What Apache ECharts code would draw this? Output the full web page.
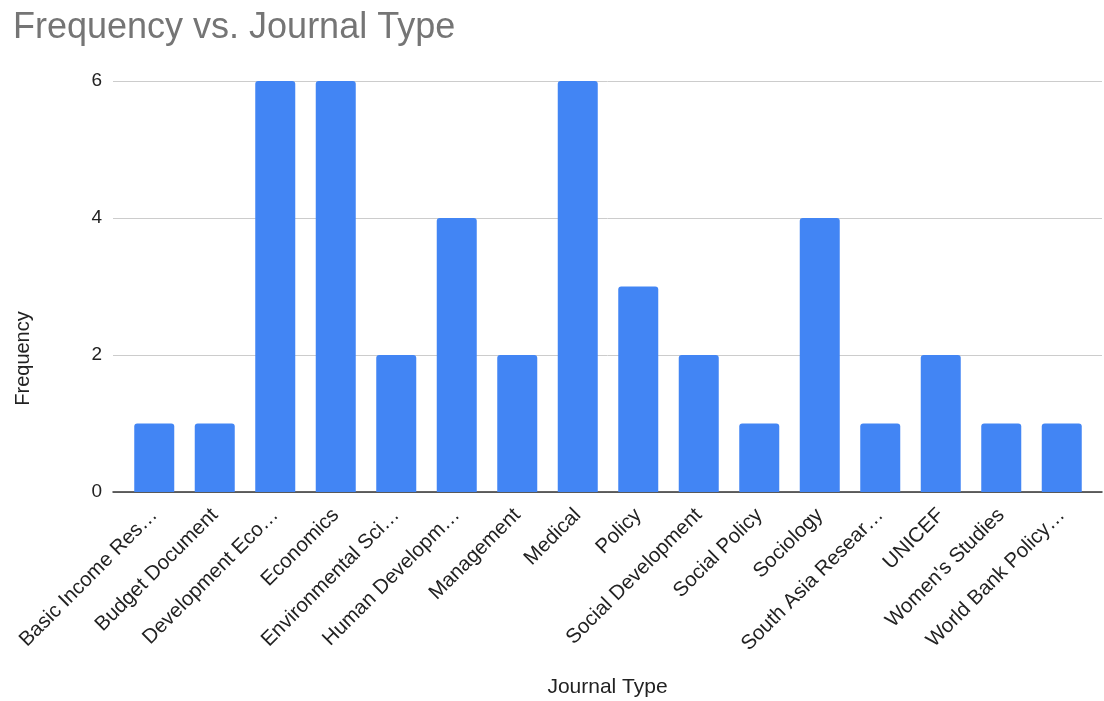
<!DOCTYPE html>
<html>
<head>
<meta charset="utf-8">
<script src="https://cdn.jsdelivr.net/npm/echarts@6/dist/echarts.min.js"></script>
<style>
  html, body { margin: 0; padding: 0; background: #fff; }
  #chart { width: 1104px; height: 701px; }
</style>
</head>
<body>
<div id="chart"></div>
<script>
// Journal types (labels shortened as displayed) and how often each occurs
const journalTypes = [
  'Basic Income Res\u2026', 'Budget Document', 'Development Eco\u2026', 'Economics',
  'Environmental Sci\u2026', 'Human Developm\u2026', 'Management', 'Medical',
  'Policy', 'Social Development', 'Social Policy', 'Sociology',
  'South Asia Resear\u2026', 'UNICEF', "Women's Studies", 'World Bank Policy\u2026'
];
const frequency = [1, 1, 6, 6, 2, 4, 2, 6, 3, 2, 1, 4, 1, 2, 1, 1];
const yTicks = { min: 0, max: 6, interval: 2 };

const FONT = '"Liberation Sans", Arial, sans-serif';
const chart = echarts.init(document.getElementById('chart'), null, { renderer: 'canvas' });

chart.setOption({
  animation: false,
  textStyle: { fontFamily: FONT },
  title: {
    text: 'Frequency vs. Journal Type',
    left: 8, top: 5,
    textStyle: { fontFamily: FONT, fontSize: 36, fontWeight: 'normal', color: '#757575' }
  },
  grid: [
    // frame grid: gridlines, baseline and axis titles
    { left: 113, right: 2, top: 81, bottom: 209, outerBoundsMode: 'none' },
    // bar grid: slightly inset so bars sit inside the frame
    { left: 124, right: 12, top: 81, bottom: 209, outerBoundsMode: 'none' }
  ],
  xAxis: [
    {
      gridIndex: 0, type: 'value', min: 0, max: 1,
      axisLine: { show: true, lineStyle: { color: '#333', width: 1.5 } },
      axisTick: { show: false }, axisLabel: { show: false }, splitLine: { show: false },
      name: 'Journal Type', nameLocation: 'middle', nameGap: 185,
      nameTextStyle: { fontFamily: FONT, fontSize: 21, color: '#222' }
    },
    {
      gridIndex: 1, type: 'category', data: journalTypes,
      axisLine: { show: false }, axisTick: { show: false },
      axisLabel: {
        interval: 0, rotate: 45, margin: 20,
        fontFamily: FONT, fontSize: 20.5, color: '#222'
      }
    }
  ],
  yAxis: [
    {
      gridIndex: 0, type: 'value', min: yTicks.min, max: yTicks.max, interval: yTicks.interval,
      axisLine: { show: false }, axisTick: { show: false },
      axisLabel: { margin: 11, fontFamily: FONT, fontSize: 19, color: '#222' },
      splitLine: { show: true, lineStyle: { color: '#ccc', width: 1 } },
      name: 'Frequency', nameLocation: 'middle', nameGap: 80, nameRotate: 90,
      nameTextStyle: { fontFamily: FONT, fontSize: 20, color: '#222', padding: [0, 144, 0, 0] }
    },
    {
      gridIndex: 1, type: 'value', min: yTicks.min, max: yTicks.max, interval: yTicks.interval,
      show: false, splitLine: { show: false }
    }
  ],
  series: [{
    type: 'bar',
    xAxisIndex: 1, yAxisIndex: 1,
    data: frequency,
    barWidth: 40,
    itemStyle: { color: '#4285F4', borderRadius: [3, 3, 0, 0] }
  }]
});
</script>
</body>
</html>
